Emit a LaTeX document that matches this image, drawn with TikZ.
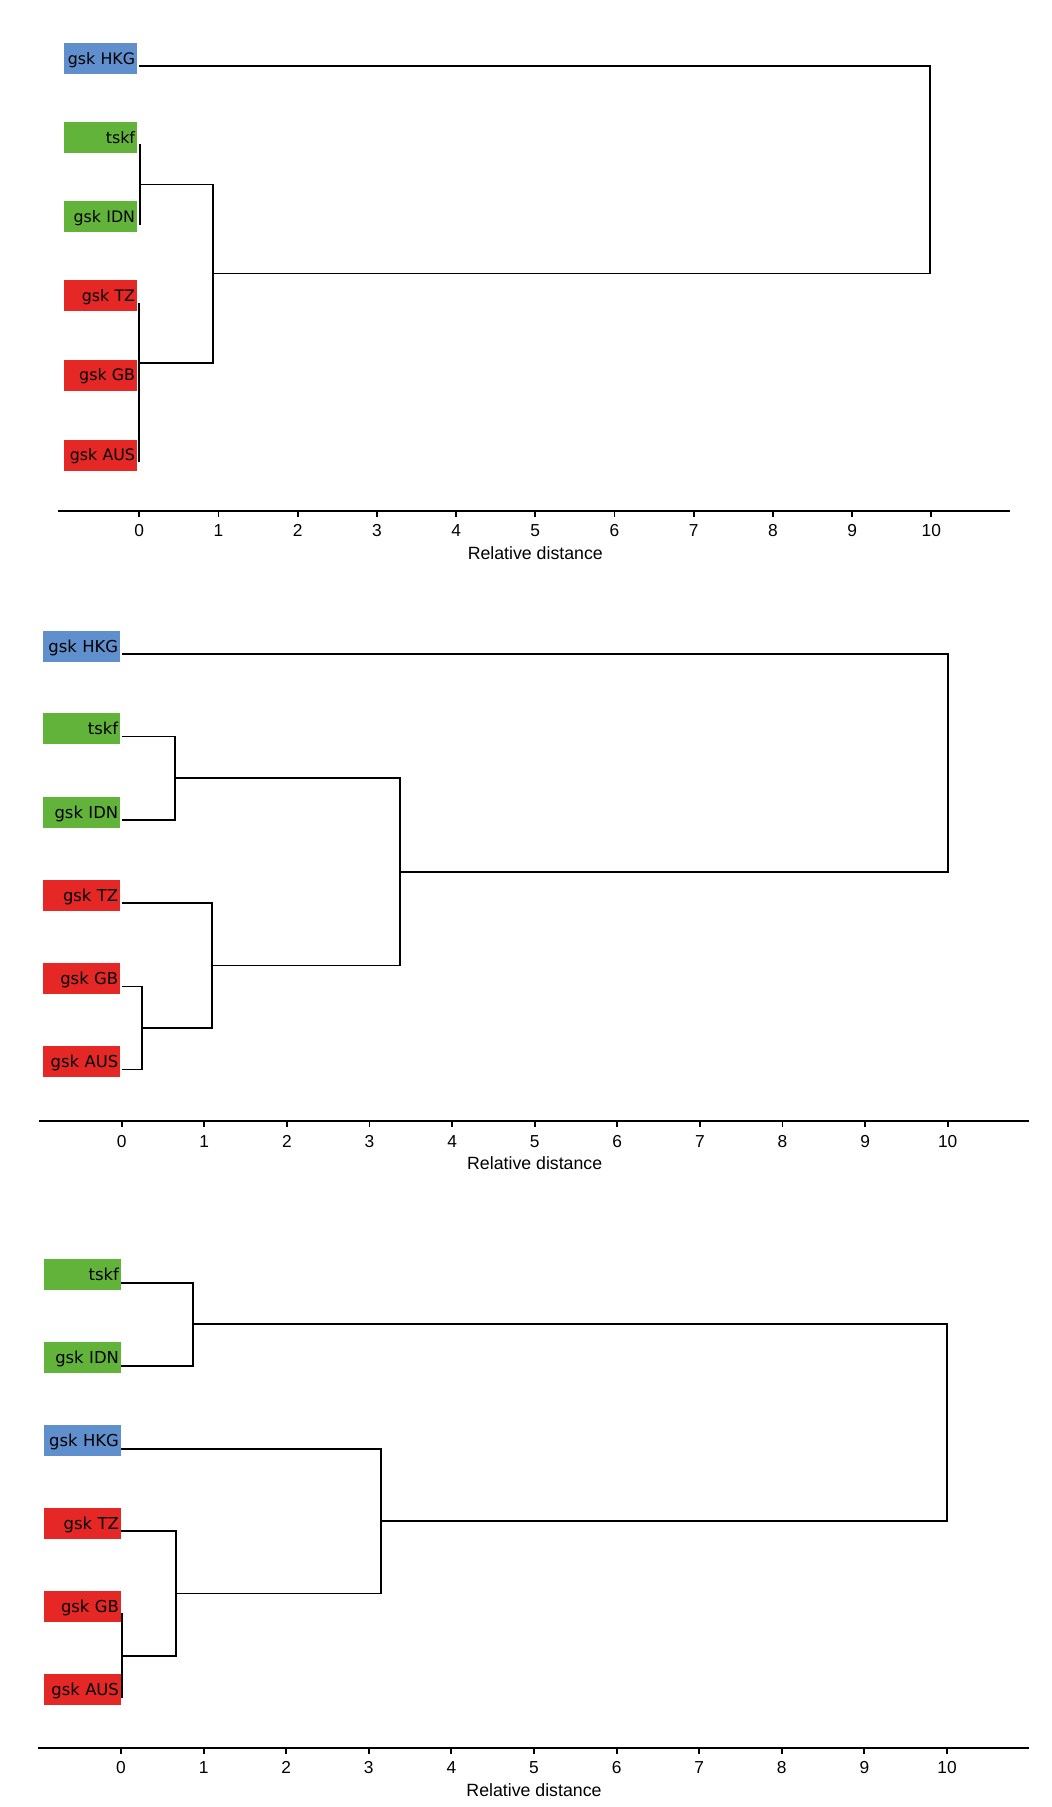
\documentclass[tikz,border=0pt]{standalone}
\usepackage{fontspec}
\setmainfont{Liberation Sans}
\newfontfamily\labfont{DejaVu Sans}
\definecolor{hkgblue}{RGB}{95,143,205}
\definecolor{tskgreen}{RGB}{98,179,57}
\definecolor{gskred}{RGB}{229,39,38}
\tikzset{
  leafbox/.style={minimum height=23.25pt, align=right, inner xsep=1.5pt, inner ysep=0pt,
    text height=8.7pt, text depth=0pt, text=black},
  smallbox/.style={leafbox, text width=51.75pt, font=\labfont\fontsize{11.85pt}{13pt}\selectfont},
  widebox/.style={leafbox, text width=54.75pt, text height=9pt, font=\labfont\fontsize{12.3pt}{14pt}\selectfont},
  bluebox/.style={fill=hkgblue},
  greenbox/.style={fill=tskgreen},
  redbox/.style={fill=gskred},
  br/.style={line width=1.4pt, line join=miter},
  axisline/.style={line width=1.4pt},
  ticklab/.style={font=\fontsize{13pt}{15pt}\selectfont, inner sep=0pt},
  axtitle/.style={font=\fontsize{13.3pt}{15pt}\selectfont, inner sep=0pt},
}
\begin{document}
\begin{tikzpicture}[x=0.75pt, y=-0.75pt]
\useasboundingbox (0,0) rectangle (1052,1807);

% ---------------- dendrogram 1 ----------------
\def\xa{139.3}\def\ua{79.2}
\node[smallbox,bluebox]  (a-hkg)  at (100.5,58.5)  {gsk HKG};
\node[smallbox,greenbox] (a-tskf) at (100.5,137.5) {tskf};
\node[smallbox,greenbox] (a-idn)  at (100.5,216.5) {gsk IDN};
\node[smallbox,redbox]   (a-tz)   at (100.5,295.5) {gsk TZ};
\node[smallbox,redbox]   (a-gb)   at (100.5,375)   {gsk GB};
\node[smallbox,redbox]   (a-aus)  at (100.5,455)   {gsk AUS};
\coordinate (a-hkg-l)  at (\xa,66);
\coordinate (a-tskf-l) at (\xa,145);
\coordinate (a-idn-l)  at (\xa,224);
\coordinate (a-tz-l)   at (\xa,303);
\coordinate (a-gb-l)   at (\xa,382.5);
\coordinate (a-aus-l)  at (\xa,462);
\coordinate (a-g)    at ({\xa+0.01*\ua},184.5);
\coordinate (a-r1)   at (\xa,422.25);
\coordinate (a-r2)   at (\xa,362.6);
\coordinate (a-c)    at ({\xa+0.93*\ua},273.5);
\coordinate (a-root) at ({\xa+9.98*\ua},169.8);
\draw[br] (a-tskf-l) -| (a-g);  \draw[br] (a-idn-l) -| (a-g);
\draw[br] (a-gb-l) -| (a-r1);   \draw[br] (a-aus-l) -| (a-r1);
\draw[br] (a-tz-l) -| (a-r2);   \draw[br] (a-r1) -| (a-r2);
\draw[br] (a-g) -| (a-c);       \draw[br] (a-r2) -| (a-c);
\draw[br] (a-hkg-l) -| (a-root);\draw[br] (a-c) -| (a-root);
% axis
\coordinate (a-axl) at (58,510.7);
\coordinate (a-axr) at (1010,510.7);
\draw[axisline] (a-axl) -- (a-axr);
\foreach \i in {0,...,10}{
  \draw[axisline] ({\xa+\i*\ua},510.7) -- ++(0,6);
  \node[ticklab] (a-t\i) at ({\xa+\i*\ua},530.7) {\i};
}
\node[axtitle] (a-title) at ({\xa+5*\ua},553) {Relative distance};

% ---------------- dendrogram 2 ----------------
\def\xb{121.7}\def\ub{82.6}
\node[widebox,bluebox]  (b-hkg)  at (81.7,646)  {gsk HKG};
\node[widebox,greenbox] (b-tskf) at (81.7,728.5){tskf};
\node[widebox,greenbox] (b-idn)  at (81.7,812)  {gsk IDN};
\node[widebox,redbox]   (b-tz)   at (81.7,895)  {gsk TZ};
\node[widebox,redbox]   (b-gb)   at (81.7,978)  {gsk GB};
\node[widebox,redbox]   (b-aus)  at (81.7,1061.5){gsk AUS};
\coordinate (b-hkg-l)  at (\xb,654);
\coordinate (b-tskf-l) at (\xb,736.5);
\coordinate (b-idn-l)  at (\xb,820);
\coordinate (b-tz-l)   at (\xb,903);
\coordinate (b-gb-l)   at (\xb,986.5);
\coordinate (b-aus-l)  at (\xb,1069.5);
\coordinate (b-g)    at ({\xb+0.645*\ub},778.25);
\coordinate (b-r1)   at ({\xb+0.246*\ub},1028);
\coordinate (b-r2)   at ({\xb+1.093*\ub},965.5);
\coordinate (b-c)    at ({\xb+3.373*\ub},871.9);
\coordinate (b-root) at ({\xb+10*\ub},763);
\draw[br] (b-tskf-l) -| (b-g);  \draw[br] (b-idn-l) -| (b-g);
\draw[br] (b-gb-l) -| (b-r1);   \draw[br] (b-aus-l) -| (b-r1);
\draw[br] (b-tz-l) -| (b-r2);   \draw[br] (b-r1) -| (b-r2);
\draw[br] (b-g) -| (b-c);       \draw[br] (b-r2) -| (b-c);
\draw[br] (b-hkg-l) -| (b-root);\draw[br] (b-c) -| (b-root);
% axis
\coordinate (b-axl) at (39,1120.7);
\coordinate (b-axr) at (1029,1120.7);
\draw[axisline] (b-axl) -- (b-axr);
\foreach \i in {0,...,10}{
  \draw[axisline] ({\xb+\i*\ub},1120.7) -- ++(0,6);
  \node[ticklab] (b-t\i) at ({\xb+\i*\ub},1141.7) {\i};
}
\node[axtitle] (b-title) at ({\xb+5*\ub},1163.5) {Relative distance};

% ---------------- dendrogram 3 ----------------
\def\xc{121}\def\uc{82.6}
\node[widebox,greenbox] (c-tskf) at (82.4,1274.7) {tskf};
\node[widebox,greenbox] (c-idn)  at (82.4,1357.6) {gsk IDN};
\node[widebox,bluebox]  (c-hkg)  at (82.4,1440.8) {gsk HKG};
\node[widebox,redbox]   (c-tz)   at (82.4,1523.6) {gsk TZ};
\node[widebox,redbox]   (c-gb)   at (82.4,1606.5) {gsk GB};
\node[widebox,redbox]   (c-aus)  at (82.4,1689.5) {gsk AUS};
\coordinate (c-tskf-l) at (\xc,1282.7);
\coordinate (c-idn-l)  at (\xc,1365.6);
\coordinate (c-hkg-l)  at (\xc,1448.6);
\coordinate (c-tz-l)   at (\xc,1531.2);
\coordinate (c-gb-l)   at (\xc,1614.3);
\coordinate (c-aus-l)  at (\xc,1697.2);
\coordinate (c-g)    at ({\xc+0.875*\uc},1324.15);
\coordinate (c-r1)   at ({\xc+0.01*\uc},1655.75);
\coordinate (c-r2)   at ({\xc+0.666*\uc},1593.5);
\coordinate (c-h)    at ({\xc+3.15*\uc},1521);
\coordinate (c-root) at ({\xc+10*\uc},1422.6);
\draw[br] (c-tskf-l) -| (c-g);  \draw[br] (c-idn-l) -| (c-g);
\draw[br] (c-gb-l) -| (c-r1);   \draw[br] (c-aus-l) -| (c-r1);
\draw[br] (c-tz-l) -| (c-r2);   \draw[br] (c-r1) -| (c-r2);
\draw[br] (c-hkg-l) -| (c-h);   \draw[br] (c-r2) -| (c-h);
\draw[br] (c-g) -| (c-root);    \draw[br] (c-h) -| (c-root);
% axis
\coordinate (c-axl) at (38.3,1747.7);
\coordinate (c-axr) at (1029,1747.7);
\draw[axisline] (c-axl) -- (c-axr);
\foreach \i in {0,...,10}{
  \draw[axisline] ({\xc+\i*\uc},1747.7) -- ++(0,6);
  \node[ticklab] (c-t\i) at ({\xc+\i*\uc},1767.7) {\i};
}
\node[axtitle] (c-title) at ({\xc+5*\uc},1790) {Relative distance};
\end{tikzpicture}
\end{document}
